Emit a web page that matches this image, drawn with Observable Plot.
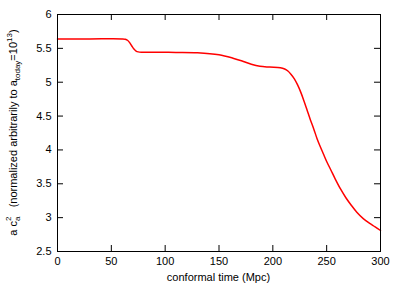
<!DOCTYPE html>
<html>
<head>
<meta charset="utf-8">
<script src="https://cdn.jsdelivr.net/npm/d3@7"></script>
<script src="https://cdn.jsdelivr.net/npm/@observablehq/plot@0.6"></script>
<style>
  html, body { margin: 0; padding: 0; background: white; }
</style>
</head>
<body>
<div id="chart"></div>
<script>
const times = [0, 30, 60, 63, 65, 67, 69, 71, 73, 75, 78, 90, 110, 130, 150, 163, 172, 180, 188, 197, 207, 211, 214, 217, 220, 223, 226, 229, 232, 235, 238, 241, 244, 247, 250, 254, 258, 263, 268, 273, 278, 284, 290, 295, 300];
const values = [5.64, 5.64, 5.64, 5.635, 5.62, 5.585, 5.535, 5.49, 5.46, 5.448, 5.443, 5.443, 5.44, 5.435, 5.405, 5.355, 5.31, 5.265, 5.235, 5.224, 5.215, 5.195, 5.165, 5.115, 5.05, 4.96, 4.85, 4.72, 4.58, 4.44, 4.31, 4.17, 4.05, 3.94, 3.83, 3.70, 3.57, 3.42, 3.29, 3.18, 3.08, 2.985, 2.915, 2.865, 2.81];
const xTicks = [0, 50, 100, 150, 200, 250, 300];
const yTicks = [2.5, 3, 3.5, 4, 4.5, 5, 5.5, 6];
const xLabel = "conformal time (Mpc)";

const W = 399, H = 285, ML = 57, MR = 19, MT = 14, MB = 34, TL = 6;
const innerW = W - ML - MR, innerH = H - MT - MB;

const data = times.map((t, i) => ({t, v: values[i]}));
const fmt = d => String(d);

const chart = Plot.plot({
  width: W,
  height: H,
  marginLeft: ML,
  marginRight: MR,
  marginTop: MT,
  marginBottom: MB,
  style: {fontFamily: "'Liberation Sans', Arial, sans-serif", fontSize: "11px", color: "#000", background: "white"},
  x: {domain: [0, 300]},
  y: {domain: [2.5, 6]},
  marks: [
    Plot.tickX(xTicks, {x: d => d, insetTop: innerH - TL, stroke: "#000", strokeWidth: 1}),
    Plot.tickX(xTicks, {x: d => d, insetBottom: innerH - TL, stroke: "#000", strokeWidth: 1}),
    Plot.tickY(yTicks, {y: d => d, insetRight: innerW - TL, stroke: "#000", strokeWidth: 1}),
    Plot.tickY(yTicks, {y: d => d, insetLeft: innerW - TL, stroke: "#000", strokeWidth: 1}),
    Plot.axisX({anchor: "bottom", ticks: xTicks, tickSize: 0, tickPadding: 6, tickFormat: fmt, label: null}),
    Plot.axisY({anchor: "left", ticks: yTicks, tickSize: 0, tickPadding: 6, tickFormat: fmt, label: null}),
    Plot.line(data, {x: "t", y: "v", stroke: "#ff0000", strokeWidth: 1.5, curve: "catmull-rom"}),
    Plot.frame({stroke: "#000", strokeWidth: 1})
  ]
});

document.getElementById("chart").appendChild(chart);

const svg = d3.select(chart);
svg.append("text")
  .attr("x", ML + innerW / 2).attr("y", 281)
  .attr("text-anchor", "middle")
  .attr("font-size", 11)
  .attr("fill", "#000")
  .text(xLabel);

const yl = svg.append("text")
  .attr("transform", `translate(17,${MT + innerH / 2}) rotate(-90)`)
  .attr("text-anchor", "middle")
  .attr("font-size", 11)
  .attr("fill", "#000");
yl.append("tspan").text("a c");
yl.append("tspan").attr("font-size", 8).attr("dy", 3).text("a");
yl.append("tspan").attr("font-size", 8).attr("dx", -4.5).attr("dy", -9).text("2");
yl.append("tspan").attr("dy", 6).text("\u00a0\u00a0\u00a0(normalized arbitrarily to a");
yl.append("tspan").attr("font-size", 8).attr("dy", 3).text("today");
yl.append("tspan").attr("dy", -3).text("=10");
yl.append("tspan").attr("font-size", 8).attr("dy", -5).text("13");
yl.append("tspan").attr("dy", 5).text(")");
</script>
</body>
</html>
